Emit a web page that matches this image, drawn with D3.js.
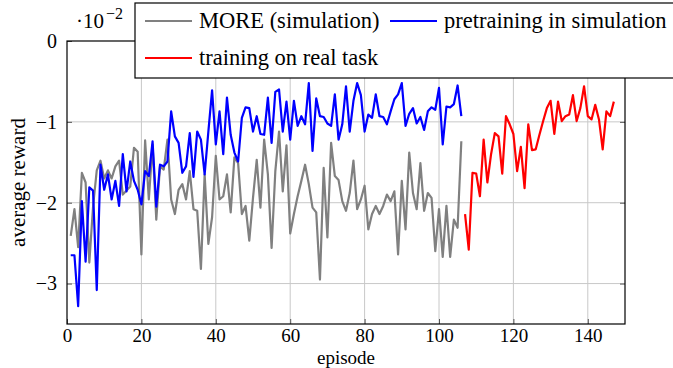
<!DOCTYPE html>
<html>
<head>
<meta charset="utf-8">
<script src="https://cdn.jsdelivr.net/npm/d3@7"></script>
<style>
  body { margin: 0; background: #fff; }
  svg text { font-family: "Liberation Serif", "Times New Roman", Times, "DejaVu Serif", serif; }
</style>
</head>
<body>
<svg id="chart" width="673" height="368"></svg>
<script>
// values are in units of 10^-2
const moreSim = [-2.41, -2.08, -2.55, -1.63, -1.75, -2.74, -2.05, -1.6, -1.48, -1.7,
  -1.6, -1.7, -1.55, -1.48, -1.9, -1.85, -1.8, -1.32, -1.37, -2.64,
  -1.23, -1.96, -1.28, -2.21, -1.55, -1.59, -1.22, -1.96, -2.14, -1.84,
  -1.77, -1.96, -1.61, -2.08, -2.1, -2.82, -1.65, -2.51, -2.18, -1.42,
  -1.96, -1.92, -1.65, -2.12, -1.44, -1.51, -2.14, -2.04, -2.47, -1.94,
  -1.47, -2.06, -1.22, -1.65, -2.56, -1.61, -1.12, -1.86, -1.29, -2.38,
  -2.14, -1.92, -1.73, -1.53, -1.77, -2.06, -2.12, -2.95, -1.57, -2.43,
  -1.26, -1.67, -1.72, -1.98, -2.1, -1.88, -1.48, -2.08, -1.96, -1.79,
  -2.33, -2.14, -2.04, -2.14, -2.04, -1.9, -1.98, -1.86, -2.64, -1.73,
  -2.33, -1.38, -1.88, -2.08, -1.51, -2.1, -1.88, -1.94, -2.6, -2.08,
  -2.67, -2.04, -2.67, -2.21, -2.31, -1.24];

const pretrainSim = [-2.65, -2.65, -3.28, -1.98, -2.73, -1.81, -1.85, -3.08, -1.53, -1.84,
  -1.65, -1.96, -1.73, -2.04, -1.4, -1.86, -1.49, -1.73, -1.84, -2.02,
  -1.61, -1.67, -1.24, -2.05, -1.53, -1.55, -1.49, -0.87, -1.18, -1.26,
  -1.63, -1.55, -1.14, -1.68, -1.12, -1.22, -1.65, -1.12, -0.61, -1.28,
  -0.87, -1.4, -0.7, -1.16, -1.38, -1.49, -0.95, -0.82, -0.83, -1.12,
  -0.93, -1.15, -1.16, -0.7, -1.26, -0.63, -0.6, -1.12, -0.75, -1.22,
  -0.74, -1.05, -0.93, -1.03, -0.52, -1.36, -0.71, -0.93, -0.94, -1.02,
  -1.05, -0.66, -1.22, -1.03, -0.56, -1.12, -0.74, -0.52, -0.67, -1.12,
  -0.91, -0.95, -0.66, -0.93, -0.94, -1.03, -0.87, -0.72, -0.66, -0.52,
  -1.05, -0.9, -0.83, -1.02, -0.94, -1.1, -0.87, -0.82, -0.85, -0.58,
  -1.28, -0.81, -0.82, -0.78, -0.55, -0.93];

const realStart = 107;
const realTask = [-2.14, -2.58, -1.63, -1.64, -1.92, -1.22, -1.75, -1.4, -1.14, -1.18,
  -1.64, -0.93, -1.03, -1.15, -1.61, -1.31, -1.82, -1.03, -1.35, -1.34,
  -1.16, -0.99, -0.83, -0.74, -1.15, -0.75, -0.99, -0.93, -0.91, -0.67,
  -0.99, -0.83, -0.56, -0.93, -0.97, -0.79, -0.97, -1.34, -0.87, -0.93,
  -0.75];

const xTicks = [0, 20, 40, 60, 80, 100, 120, 140];
const yTicks = [0, -1, -2, -3];

const series = [
  { name: "MORE (simulation)", color: "#808080", start: 1, values: moreSim },
  { name: "pretraining in simulation", color: "#0000ff", start: 1, values: pretrainSim },
  { name: "training on real task", color: "#ff0000", start: realStart, values: realTask }
];

const margin = { top: 41, right: 48, bottom: 44, left: 67 };
const width = 673, height = 368;
const fs = 22;
const svg = d3.select("#chart");

const x = d3.scaleLinear().domain([0, 150]).range([margin.left, width - margin.right]);
const y = d3.scaleLinear().domain([-3.5, 0]).range([height - margin.bottom, margin.top]);

// grid
const grid = svg.append("g").attr("stroke", "#c8c8c8").attr("stroke-width", 1);
grid.selectAll(".gx").data(xTicks.slice(1)).enter().append("line")
  .attr("x1", d => x(d)).attr("x2", d => x(d))
  .attr("y1", y(0)).attr("y2", y(-3.5));
grid.selectAll(".gy").data(yTicks.slice(1)).enter().append("line")
  .attr("x1", x(0)).attr("x2", x(150))
  .attr("y1", d => y(d)).attr("y2", d => y(d));

// axes with inward ticks
const bottomAxis = d3.axisBottom(x).tickValues(xTicks).tickSizeInner(-5).tickSizeOuter(0).tickPadding(5);
const leftAxis = d3.axisLeft(y).tickValues(yTicks).tickSizeInner(-5).tickSizeOuter(0).tickPadding(10)
  .tickFormat(d => d === 0 ? "0" : "\u2212" + Math.abs(d));
const gx = svg.append("g").attr("transform", `translate(0,${y(-3.5)})`).call(bottomAxis);
const gy = svg.append("g").attr("transform", `translate(${x(0)},0)`).call(leftAxis);
const gr = svg.append("g").attr("transform", `translate(${x(150)},0)`)
  .call(d3.axisRight(y).tickValues(yTicks).tickSizeInner(-5).tickSizeOuter(0).tickFormat(""));
[gx, gy, gr].forEach(g => {
  g.select(".domain").remove();
  g.attr("font-family", null);
  g.selectAll(".tick line").attr("stroke", "#555");
  g.selectAll("text").attr("font-size", 20).attr("fill", "#000");
});
gx.selectAll("text").attr("font-size", 19);

// lines
const line = d3.line().x(d => x(d[0])).y(d => y(d[1]));
series.forEach(s => {
  svg.append("path")
    .datum(s.values.map((v, i) => [s.start + i, v]))
    .attr("fill", "none")
    .attr("stroke", s.color)
    .attr("stroke-width", 2.2)
    .attr("stroke-linejoin", "round")
    .attr("d", line);
});

// frame
svg.append("rect")
  .attr("x", x(0)).attr("y", y(0))
  .attr("width", x(150) - x(0)).attr("height", y(-3.5) - y(0))
  .attr("fill", "none").attr("stroke", "#000").attr("stroke-width", 1.2);

// scale label
const sc = svg.append("text").attr("x", 76).attr("y", 28).attr("font-size", fs - 1);
sc.append("tspan").text("\u00b710");
sc.append("tspan").attr("dx", 2).attr("dy", -9).attr("font-size", 16).text("\u22122");

// axis titles
svg.append("text").attr("x", (x(0) + x(150)) / 2).attr("y", 364)
  .attr("text-anchor", "middle").attr("font-size", 19).text("episode");
svg.append("text").attr("transform", `translate(25,${(y(0) + y(-3.5)) / 2}) rotate(-90)`)
  .attr("text-anchor", "middle").attr("font-size", fs - 1).text("average reward");

// legend
const lg = svg.append("g");
lg.append("rect").attr("x", 135).attr("y", 3).attr("width", 560).attr("height", 75)
  .attr("fill", "#fff").attr("stroke", "#000").attr("stroke-width", 1.2);
const items = [
  { s: series[0], lx: 145, ly: 21 },
  { s: series[1], lx: 390, ly: 21 },
  { s: series[2], lx: 145, ly: 58 }
];
items.forEach(it => {
  lg.append("line").attr("x1", it.lx).attr("x2", it.lx + 47)
    .attr("y1", it.ly).attr("y2", it.ly)
    .attr("stroke", it.s.color).attr("stroke-width", 2.2);
  lg.append("text").attr("x", it.lx + 54).attr("y", it.ly + 7)
    .attr("font-size", fs + 0.5).text(it.s.name);
});
</script>
</body>
</html>
